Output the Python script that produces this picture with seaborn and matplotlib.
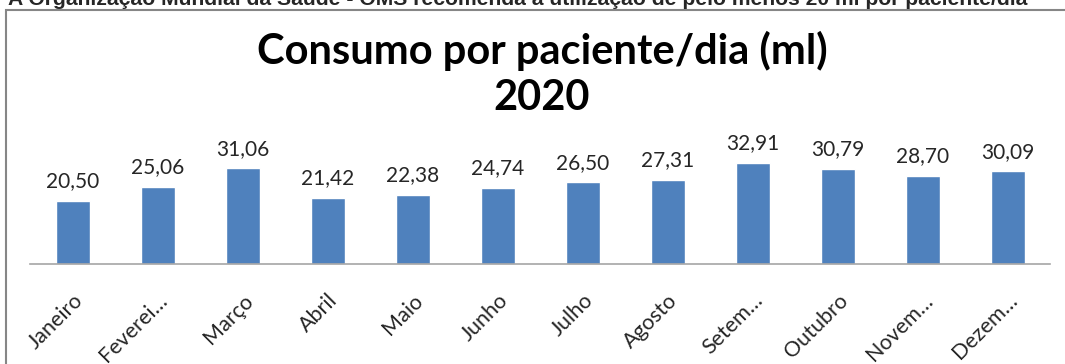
import matplotlib
matplotlib.use("Agg")
import matplotlib.pyplot as plt
import seaborn as sns
import pandas as pd
from matplotlib.patches import Rectangle

meses = ["Janeiro", "Feverei…", "Março", "Abril", "Maio", "Junho",
         "Julho", "Agosto", "Setem…", "Outubro", "Novem…", "Dezem…"]
consumo = [20.50, 25.06, 31.06, 21.42, 22.38, 24.74,
           26.50, 27.31, 32.91, 30.79, 28.70, 30.09]
titulo = "Consumo por paciente/dia (ml)\n2020"
nota = ("A Organização Mundial da Saúde - OMS recomenda a utilização "
        "de pelo menos 20 ml por paciente/dia")

sns.set_style("white")
plt.rcParams["font.family"] = ["Lato", "DejaVu Sans"]

W, H = 1065, 364
fig = plt.figure(figsize=(W / 100, H / 100), dpi=100)

# caption line above the chart frame (partly above the page edge)
fig.text(8 / W, (H - 5) / H, nota, ha="left", va="baseline",
         fontsize=15.2, fontweight="bold", family=["Liberation Sans", "DejaVu Sans"])

# chart frame
fig.patches.append(Rectangle((6 / W, -0.2), 1.2, (H - 10) / H + 0.2,
                             transform=fig.transFigure, fill=False,
                             edgecolor="#868686", linewidth=1.5))

df = pd.DataFrame({"mes": meses, "consumo": consumo})

ax = fig.add_axes([30 / W, 100 / H, 1020 / W, 107.8 / H])
sns.barplot(data=df, x="mes", y="consumo", color="#4F81BD", saturation=1,
            width=0.4, ax=ax)
ax.set_ylim(0, 35)
ax.set_xlim(-0.5, len(meses) - 0.5)

rotulos = [f"{v:.2f}".replace(".", ",") for v in consumo]
ax.bar_label(ax.containers[0], labels=rotulos, padding=7, fontsize=15,
             color="#262626")

ax.set_xlabel("")
ax.set_ylabel("")
ax.set_yticks([])
for s in ("left", "right", "top"):
    ax.spines[s].set_visible(False)
ax.spines["bottom"].set_color("#a6a6a6")
ax.spines["bottom"].set_linewidth(1.2)
ax.tick_params(axis="x", length=0, pad=19, labelsize=15.5, labelcolor="#262626")
plt.setp(ax.get_xticklabels(), rotation=45, ha="right", rotation_mode="anchor")

fig.text(542 / W, (H - 31) / H, titulo, ha="center", va="top",
         fontsize=30, fontweight="bold", linespacing=1.25, color="black")

fig.savefig("out.png", dpi=100)
